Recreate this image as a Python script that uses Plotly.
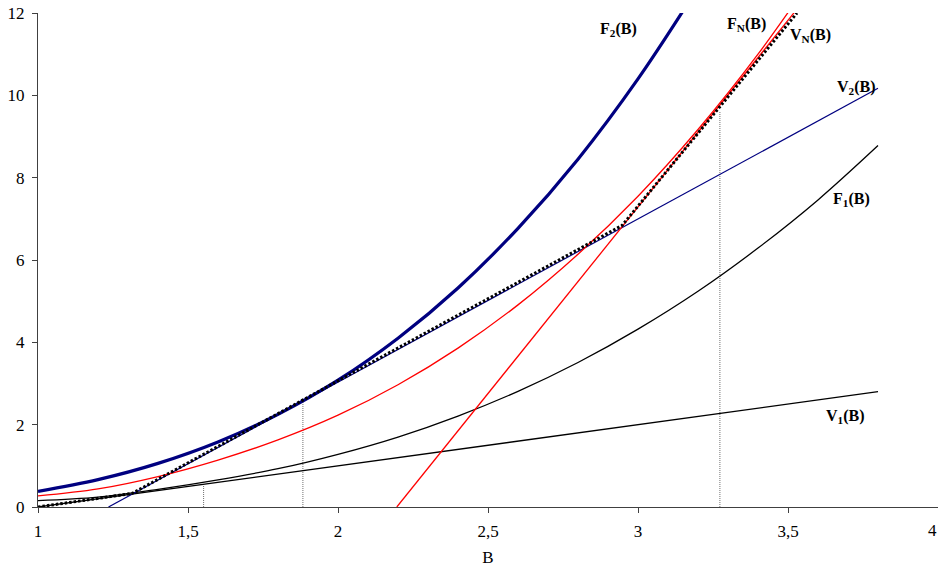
import plotly.graph_objects as go

# ---- data ----
B_grid = [1.0, 1.2, 1.4, 1.6, 1.8, 2.0, 2.2, 2.4, 2.6, 2.8, 3.0, 3.2, 3.4, 3.6, 3.8]

F1 = [0.155, 0.24, 0.43, 0.66, 0.93, 1.28, 1.70, 2.21, 2.81, 3.51, 4.32, 5.24, 6.29, 7.46, 8.78]

B_F2 = [1.0, 1.2, 1.4, 1.6, 1.8, 2.0, 2.2, 2.4, 2.6, 2.8, 3.0, 3.2]
F2 = [0.38, 0.665, 1.06, 1.58, 2.25, 3.08, 4.10, 5.32, 6.77, 8.45, 10.40, 12.62]

B_FN = [1.0, 1.2, 1.4, 1.6, 1.8, 2.0, 2.2, 2.4, 2.6, 2.8, 3.0, 3.2, 3.4, 3.6]
FN = [0.27, 0.44, 0.74, 1.14, 1.63, 2.23, 2.97, 3.86, 4.91, 6.14, 7.55, 9.17, 11.0, 13.06]

B_V1 = [1.0, 3.8]
V1 = [0.0, 2.8]

B_V2 = [1.235, 3.8]
V2 = [0.0, 10.17]

B_TN = [2.196, 3.6]          # tangent line to F_N
TN = [0.0, 12.73]

B_VN = [1.0, 1.314, 2.947, 3.53]
VN = [0.0, 0.33, 6.84, 12.0]

B_star = [1.552, 1.883, 3.273]
B_star_top = [0.55, 2.57, 9.62]

x_ticks = [1, 1.5, 2, 2.5, 3, 3.5, 4]
x_ticklabels = ["1", "1,5", "2", "2,5", "3", "3,5", "4"]
y_ticks = [0, 2, 4, 6, 8, 10, 12]

SERIF = "Liberation Serif"

fig = go.Figure()

# vertical dotted markers at B*
vx, vy = [], []
for b, t in zip(B_star, B_star_top):
    vx += [b, b, None]
    vy += [0, t, None]
fig.add_trace(go.Scatter(x=vx, y=vy, mode="lines",
                         line=dict(color="#707070", width=1, dash="1px,1px"),
                         hoverinfo="skip"))

fig.add_trace(go.Scatter(x=B_V1, y=V1, mode="lines", line=dict(color="black", width=1.3)))
fig.add_trace(go.Scatter(x=B_grid, y=F1, mode="lines", line=dict(color="black", width=1.3, shape="spline")))
fig.add_trace(go.Scatter(x=B_V2, y=V2, mode="lines", line=dict(color="#000080", width=1.2)))
fig.add_trace(go.Scatter(x=B_FN, y=FN, mode="lines", line=dict(color="#ff0000", width=1.3, shape="spline")))
fig.add_trace(go.Scatter(x=B_TN, y=TN, mode="lines", line=dict(color="#ff0000", width=1.3)))
fig.add_trace(go.Scatter(x=B_F2, y=F2, mode="lines", line=dict(color="#000080", width=3.2, shape="spline")))
fig.add_trace(go.Scatter(x=B_VN, y=VN, mode="lines", line=dict(color="black", width=3, dash="2.5px,2px")))

labels = [
    ("F<sub>2</sub>(B)", 2.934, 11.61),
    ("F<sub>N</sub>(B)", 3.361, 11.73),
    ("V<sub>N</sub>(B)", 3.574, 11.46),
    ("V<sub>2</sub>(B)", 3.728, 10.18),
    ("F<sub>1</sub>(B)", 3.713, 7.48),
    ("V<sub>1</sub>(B)", 3.691, 2.19),
    ("B<sub>1</sub>*", 1.598, -0.36),
    ("B<sub>2</sub>*", 1.898, -0.60),
    ("B<sub>N</sub>*", 3.326, -0.63),
]
for txt, x, y in labels:
    fig.add_annotation(x=x, y=y, xref="x", yref="y", text="<b>" + txt + "</b>",
                       showarrow=False, font=dict(family=SERIF, size=16, color="black"))

# last x tick label sits on the window edge: draw it inside the page so it is not dropped
fig.add_annotation(x=1, y=-0.0466, xref="paper", yref="paper", xanchor="right", yanchor="middle",
                   text=x_ticklabels[-1], showarrow=False, borderpad=0,
                   font=dict(family=SERIF, size=17, color="black"))

fig.update_layout(
    width=938, height=570,
    margin=dict(l=38, r=0, t=13, b=63),
    paper_bgcolor="white", plot_bgcolor="white",
    showlegend=False,
    font=dict(family=SERIF, size=17, color="black"),
)
fig.update_xaxes(range=[1, 4], tickvals=x_ticks, ticktext=x_ticklabels[:-1] + [""],
                 showgrid=False, zeroline=False, showline=True, linecolor="#404040", linewidth=1,
                 ticks="outside", ticklen=5, tickcolor="#404040", ticklabelstandoff=4,
                 ticklabeloverflow="hide past div",
                 tickfont=dict(family=SERIF, size=17, color="black"),
                 title=dict(text="B", font=dict(family=SERIF, size=17, color="black"), standoff=10))
fig.update_yaxes(range=[0, 12], tickvals=y_ticks,
                 showgrid=False, zeroline=False, showline=True, linecolor="#404040", linewidth=1,
                 ticks="outside", ticklen=5, tickcolor="#404040", ticklabelstandoff=4,
                 ticklabeloverflow="allow",
                 tickfont=dict(family=SERIF, size=17, color="black"))

# remove the default page margin so the 938x570 figure fills the window exactly
fig.write_html("out.html", config={"displayModeBar": False},
               post_script="document.body.style.margin='0';document.body.style.overflow='hidden';")
